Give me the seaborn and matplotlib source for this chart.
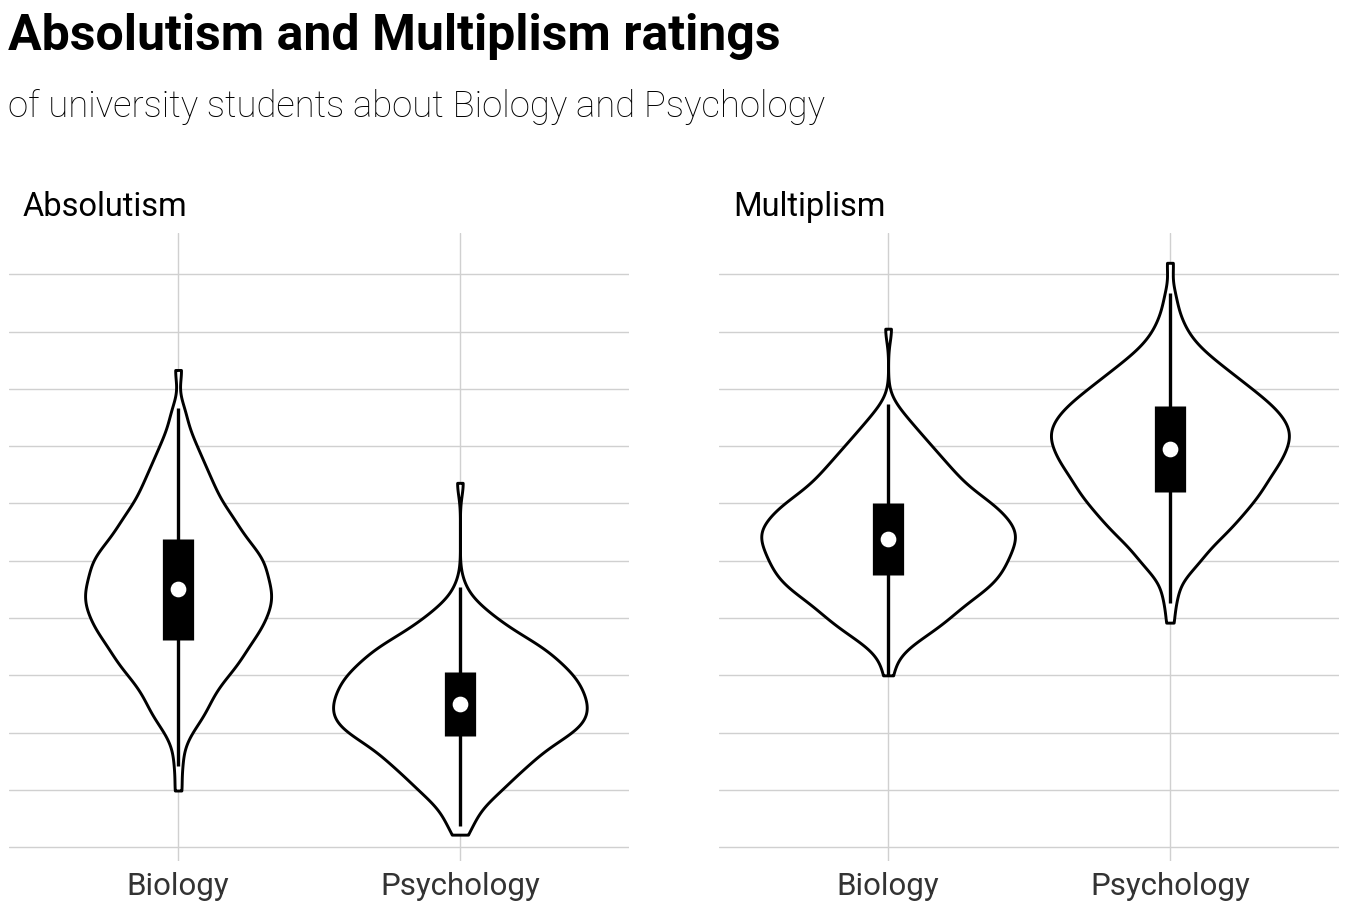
import matplotlib
matplotlib.use("Agg")
import matplotlib.pyplot as plt
import numpy as np
import pandas as pd
import seaborn as sns

# -------------------------------------------------------------------
# data: rating levels and how many students gave each level
# -------------------------------------------------------------------
subjects = ["Biology", "Psychology"]
panels = ["Absolutism", "Multiplism"]

abs_bio_levels = [0.99, 1.42, 1.75, 2.0, 2.25, 2.5, 2.75, 3.0, 3.25, 3.5, 3.75, 4.0, 4.25, 4.5,
                  4.75, 5.0, 5.25, 5.5, 5.75, 6.0, 6.25, 6.5, 6.75, 7.0, 7.25, 7.5, 7.66, 8.33]
abs_bio_counts = [1, 1, 1, 2, 4, 5, 6, 8, 10, 11, 13, 14, 15, 15,
                  14, 14, 12, 10, 9, 7, 6, 5, 4, 3, 2, 1, 1, 1]

abs_psy_levels = [0.22, 0.37, 0.5, 0.75, 1.0, 1.25, 1.5, 1.75, 2.0, 2.25, 2.5, 2.75, 3.0,
                  3.25, 3.5, 3.75, 4.0, 4.25, 4.55, 6.36]
abs_psy_counts = [1, 1, 2, 4, 7, 9, 12, 14, 19, 21, 21, 20, 19,
                  16, 14, 9, 6, 3, 1, 1]

mul_bio_levels = [3.0, 3.25, 3.5, 3.75, 4.0, 4.25, 4.5, 4.75, 5.0, 5.25, 5.5, 5.75, 6.0,
                  6.25, 6.5, 6.75, 7.0, 7.25, 7.5, 7.73, 9.05]
mul_bio_counts = [1, 1, 3, 7, 10, 12, 16, 18, 19, 20, 21, 19, 17,
                  13, 11, 9, 7, 5, 3, 1, 1]

mul_psy_levels = [3.92, 4.27, 4.45, 4.7, 4.95, 5.2, 5.45, 5.7, 5.95, 6.2, 6.45, 6.7, 6.95,
                  7.2, 7.45, 7.7, 7.95, 8.2, 8.45, 8.7, 8.95, 9.2, 9.45, 9.67, 10.2]
mul_psy_counts = [1, 1, 1, 2, 5, 6, 9, 11, 13, 15, 16, 18, 19,
                  20, 19, 17, 14, 11, 8, 5, 3, 2, 1, 1, 1]

groups = {
    ("Absolutism", "Biology"): (abs_bio_levels, abs_bio_counts),
    ("Absolutism", "Psychology"): (abs_psy_levels, abs_psy_counts),
    ("Multiplism", "Biology"): (mul_bio_levels, mul_bio_counts),
    ("Multiplism", "Psychology"): (mul_psy_levels, mul_psy_counts),
}

rows = []
for (panel, subject), (levels, counts) in groups.items():
    for v in np.repeat(levels, counts):
        rows.append({"panel": panel, "subject": subject, "rating": v})
df = pd.DataFrame(rows)

# same kernel width (in rating units) for every violin
BANDWIDTH = 0.22


def fixed_bw(kde):
    return BANDWIDTH / kde.dataset.std(ddof=1)


# -------------------------------------------------------------------
# style
# -------------------------------------------------------------------
sns.set_style("white")
plt.rcParams["font.family"] = ["Roboto", "DejaVu Sans"]

fig = plt.figure(figsize=(13.5, 9.13), dpi=100)
ax_w = 620 / 1350
ax_b = 52 / 913
ax_h = 628 / 913
axes = [
    fig.add_axes([9 / 1350, ax_b, ax_w, ax_h]),
    fig.add_axes([719 / 1350, ax_b, ax_w, ax_h]),
]

for ax, panel in zip(axes, panels):
    sub = df[df["panel"] == panel]
    sns.violinplot(
        data=sub, x="subject", y="rating", order=subjects, ax=ax,
        color="white", saturation=1, linecolor="black", linewidth=2.1,
        width=0.9, cut=0, gridsize=400, bw_method=fixed_bw,
        density_norm="area", inner="box",
        inner_kws=dict(box_width=22.5, whis_width=2.4, marker="o",
                       markersize=10.3, markeredgewidth=1,
                       solid_capstyle="butt"),
    )
    # rounder joins on the violin outline, like the original
    for coll in ax.collections:
        coll.set_joinstyle("round")
    ax.set_xlim(-0.6, 1.6)
    ax.set_ylim(-0.24, 10.72)
    ax.set_yticks(range(0, 11))
    ax.set_yticklabels([])
    ax.set_xticks([0, 1])
    ax.set_xticklabels(subjects, fontsize=22.5, color="#333333")
    ax.tick_params(length=0, pad=8)
    ax.set_xlabel("")
    ax.set_ylabel("")
    ax.grid(True, color="#d0d0d0", linewidth=1.0)
    ax.set_axisbelow(True)
    for s in ax.spines.values():
        s.set_visible(False)
    x0 = ax.get_position().x0
    fig.text(x0 + 14 / 1350, 1 - 216 / 913, panel, fontsize=23.5,
             color="black", ha="left", va="baseline")

fig.text(8 / 1350, 1 - 50 / 913, "Absolutism and Multiplism ratings",
         fontsize=36, fontweight="bold", color="black", ha="left", va="baseline")
fig.text(8 / 1350, 1 - 117 / 913, "of university students about Biology and Psychology",
         fontsize=26.3, fontweight="light", color="black", ha="left", va="baseline")

fig.savefig("out.png", dpi=100, facecolor="white")
